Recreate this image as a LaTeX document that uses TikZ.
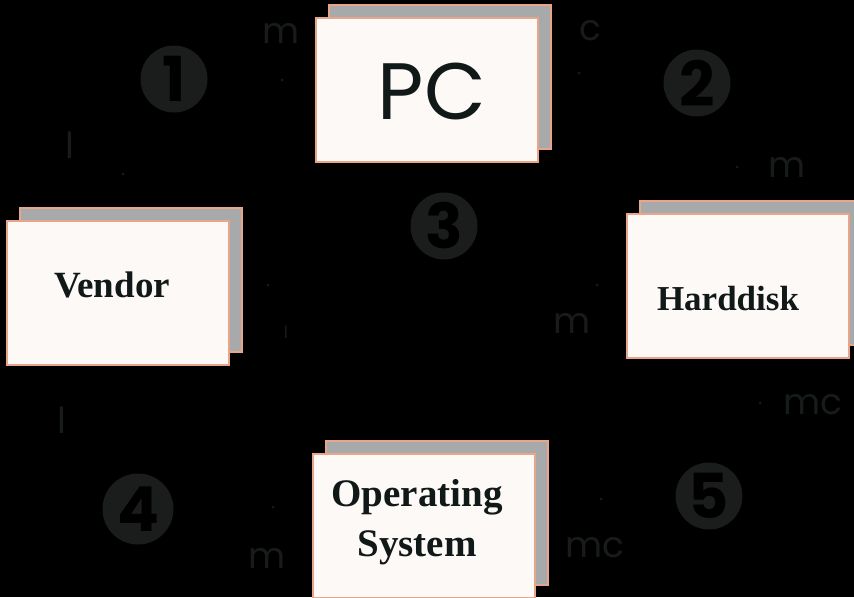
\documentclass[tikz,border=0pt]{standalone}
\usepackage{fontspec}
\setmainfont{Liberation Serif}
\newfontfamily\geofont{Poppins}
\usetikzlibrary{shadows}
\definecolor{boxfill}{HTML}{FCF9F7}
\definecolor{boxline}{HTML}{E9A58A}
\definecolor{shadowgray}{HTML}{A7A9AA}
\definecolor{boxink}{HTML}{111818}
\definecolor{faint}{HTML}{181B1B}
\definecolor{discgray}{HTML}{1B1C1C}
\tikzset{
  cardbox/.style={draw=boxline,line width=1.2pt,fill=boxfill,minimum width=222pt,minimum height=144pt,
    copy shadow={shadow xshift=13pt,shadow yshift=13pt,fill=shadowgray,draw=boxline,line width=1.2pt}},
  cardtext/.style={text=boxink,font=\fontsize{37}{50}\selectfont\bfseries,align=center,inner sep=0pt},
  marknum/.style={circle,fill=discgray,minimum size=67pt,inner sep=0pt,text=black,
    font=\geofont\fontsize{62}{62}\selectfont\bfseries},
  faintlabel/.style={text=faint,inner sep=0pt,font=\geofont\fontsize{36}{36}\selectfont},
  faintdot/.style={circle,fill=faint,inner sep=0pt,minimum size=3pt}
}
\begin{document}
\begin{tikzpicture}[x=1pt,y=-1pt]
\fill[black] (0,0) rectangle (854,597);
\useasboundingbox (0,0) rectangle (854,597);
% numbered discs
\node[marknum] (n1) at (174,79) {1};
\node[marknum] (n2) at (697,83) {2};
\node[marknum] (n3) at (444,226) {3};
\node[marknum,minimum size=71pt] (n4) at (138,509) {4};
\node[marknum] (n5) at (709,496) {5};
% faint labels and their dots
\node[faintlabel] (lbm1) at (281,33) {m};
\node[faintdot] (dt1) at (282,80) {};
\node[faintlabel] (lbc1) at (590,31) {c};
\node[faintdot] (dt2) at (579,73) {};
\node[faintlabel] (lbl1) at (70,145) {l};
\node[faintdot] (dt3) at (123,174) {};
\node[faintlabel] (lbm2) at (787,167) {m};
\node[faintdot] (dt4) at (737,167) {};
\node[faintdot] (dt5) at (268,285) {};
\node[faintlabel,font=\geofont\fontsize{17}{17}\selectfont] (lbl2) at (286,332) {l};
\node[faintdot] (dt6) at (597,285) {};
\node[faintlabel] (lbm3) at (572,323) {m};
\node[faintdot] (dt7) at (760,403) {};
\node[faintlabel] (lbmc1) at (813,405) {mc};
\node[faintlabel] (lbl3) at (62,420) {l};
\node[faintdot] (dt8) at (273,507) {};
\node[faintlabel] (lbm4) at (267,558) {m};
\node[faintdot] (dt9) at (601,499) {};
\node[faintlabel] (lbmc2) at (595,548) {mc};
% the four cards
\node[cardbox] (pc) at (427,90) {};
\node[text=boxink,inner sep=0pt,font=\geofont\fontsize{80}{80}\selectfont] (pctxt) at (432,91) {PC};
\node[cardbox] (vendor) at (118,293) {};
\node[cardtext] (vendortxt) at (112,285) {Vendor};
\node[cardbox] (disk) at (738,286) {};
\node[cardtext,font=\fontsize{35}{50}\selectfont\bfseries] (disktxt) at (728,299) {Harddisk};
\node[cardbox] (os) at (424,526) {};
\node[cardtext,font=\fontsize{39}{50}\selectfont\bfseries] (ostxt) at (417,522) {Operating\\System};
\end{tikzpicture}
\end{document}
